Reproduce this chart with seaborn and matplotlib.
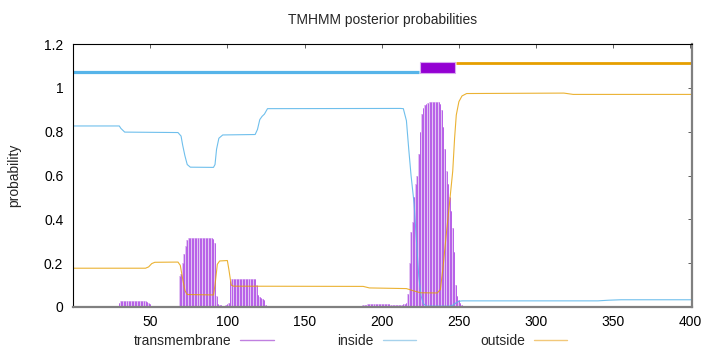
import numpy as np
import pandas as pd
import matplotlib
matplotlib.use("Agg")
import matplotlib.pyplot as plt
from matplotlib.lines import Line2D
import seaborn as sns

# transmembrane posterior, one value per residue, in segments
tm_starts = [29, 68, 187, 328]
tm_values = [
    [0.003, 0.020, 0.027, 0.028, 0.029, 0.029, 0.029, 0.029, 0.029, 0.029, 0.029, 0.029,
     0.029, 0.029, 0.029, 0.029, 0.029, 0.028, 0.028, 0.022, 0.018, 0.012, 0.004],
    [0.005, 0.140, 0.150, 0.200, 0.240, 0.280, 0.305, 0.315, 0.315, 0.315, 0.315, 0.315,
     0.315, 0.315, 0.315, 0.315, 0.315, 0.315, 0.315, 0.315, 0.315, 0.315, 0.315, 0.310,
     0.290, 0.050, 0.015, 0.010, 0.008, 0.006, 0.006, 0.008, 0.012, 0.020, 0.120, 0.126,
     0.126, 0.126, 0.126, 0.126, 0.126, 0.126, 0.126, 0.126, 0.126, 0.126, 0.126, 0.126,
     0.126, 0.126, 0.126, 0.100, 0.055, 0.045, 0.040, 0.035, 0.030, 0.010],
    [0.003, 0.008, 0.010, 0.011, 0.012, 0.012, 0.013, 0.013, 0.013, 0.013, 0.013, 0.013,
     0.013, 0.013, 0.013, 0.012, 0.012, 0.012, 0.012, 0.011, 0.011, 0.011, 0.011, 0.010,
     0.010, 0.010, 0.010, 0.012, 0.015, 0.020, 0.060, 0.200, 0.340, 0.390, 0.500, 0.560,
     0.600, 0.700, 0.800, 0.880, 0.910, 0.920, 0.925, 0.930, 0.935, 0.935, 0.935, 0.935,
     0.935, 0.935, 0.935, 0.925, 0.900, 0.820, 0.720, 0.620, 0.560, 0.500, 0.440, 0.360,
     0.250, 0.100, 0.050, 0.030, 0.020, 0.010, 0.005],
    [0.002, 0.003, 0.004, 0.004, 0.004, 0.004, 0.004, 0.004, 0.004, 0.004, 0.004, 0.004,
     0.004, 0.004, 0.004, 0.004, 0.004, 0.004, 0.004, 0.004, 0.003, 0.002],
]

# inside / outside posterior curves (residue, probability)
inside_x = [0, 30, 31, 33.5, 68, 70, 71, 72.5, 74, 76, 91, 92, 93, 94.5, 97, 118, 119.5, 121,
            122.5, 124, 126, 212, 214, 216, 217.5, 219, 221, 222.5, 224, 225.5, 227, 229,
            244, 246, 248, 250, 252, 340, 347, 355, 401]
inside_y = [0.826, 0.826, 0.815, 0.798, 0.796, 0.780, 0.740, 0.690, 0.650, 0.638, 0.637,
            0.650, 0.720, 0.770, 0.785, 0.787, 0.810, 0.855, 0.870, 0.880, 0.905, 0.906,
            0.905, 0.850, 0.720, 0.600, 0.470, 0.300, 0.140, 0.050, 0.015, 0.004, 0.004,
            0.008, 0.018, 0.026, 0.028, 0.028, 0.031, 0.033, 0.033]

outside_x = [0, 47, 49, 51, 53, 68, 69.5, 71, 72.5, 74, 91, 92, 93.5, 95, 100, 101, 102.5,
             104, 188, 192, 216, 220, 225, 236, 238, 239.7, 241.8, 244, 246, 247.2, 248.3,
             250, 252, 255, 318, 324, 401]
outside_y = [0.177, 0.177, 0.183, 0.198, 0.204, 0.205, 0.190, 0.130, 0.075, 0.057, 0.055,
             0.100, 0.195, 0.210, 0.212, 0.170, 0.100, 0.095, 0.094, 0.087, 0.084, 0.075,
             0.065, 0.064, 0.080, 0.180, 0.330, 0.480, 0.620, 0.770, 0.876, 0.937, 0.963,
             0.974, 0.976, 0.970, 0.970]

# predicted topology along the top
topo_inside = (0, 224)
topo_tm = (225, 247.5)
topo_outside = (248, 401)

sns.set_style("white")
plt.rcParams["font.family"] = ["Liberation Sans", "DejaVu Sans"]
plt.rcParams["font.size"] = 10

fig = plt.figure(figsize=(7.2, 3.52), dpi=100)
ax = fig.add_axes([73 / 720, 1 - 307 / 352, 619 / 720, 263 / 352])

tm_x = np.concatenate([np.arange(s, s + len(v)) for s, v in zip(tm_starts, tm_values)])
tm_y = np.concatenate(tm_values)
ax.bar(tm_x, tm_y, width=1.0, color="#e2c4f3", lw=0)
ax.vlines(tm_x, 0, tm_y, color="#b050e6", lw=0.6)

df_in = pd.DataFrame({"residue": inside_x, "prob": inside_y})
df_out = pd.DataFrame({"residue": outside_x, "prob": outside_y})
sns.lineplot(data=df_in, x="residue", y="prob", ax=ax, color="#56b4e9", lw=0.8, alpha=0.85)
sns.lineplot(data=df_out, x="residue", y="prob", ax=ax, color="#e69f00", lw=0.8, alpha=0.8)

ax.hlines(1.071, *topo_inside, color="#56b4e9", lw=2.3)
ax.fill_between(topo_tm, 1.067, 1.116, color="#9400d3", edgecolor="#d9a8f0", lw=0.8)
ax.hlines(1.112, *topo_outside, color="#e69f00", lw=2.0)

ax.set_xlim(0, 401)
ax.set_ylim(0, 1.2)
ax.set_xticks([50, 100, 150, 200, 250, 300, 350, 400])
ax.set_yticks([0, 0.2, 0.4, 0.6, 0.8, 1.0, 1.2])
ax.set_yticklabels(["0", "0.2", "0.4", "0.6", "0.8", "1", "1.2"])
ax.tick_params(direction="in", top=True, right=True, length=3, width=0.6,
               color="#444444", labelsize=10, labelcolor="black")
ax.tick_params(axis="x", pad=6)
ax.tick_params(axis="y", pad=7)
ax.set_xlabel("")
ax.set_ylabel("probability", fontsize=10)
ax.yaxis.set_label_coords(-0.083, 0.5)
for side in ["left", "top"]:
    ax.spines[side].set_color("black")
    ax.spines[side].set_linewidth(0.8)
for side in ["bottom", "right"]:
    ax.spines[side].set_color("#808080")
    ax.spines[side].set_linewidth(1.6)

fig.text(382.5 / 720, 1 - 20 / 352, "TMHMM posterior probabilities",
         ha="center", va="center", fontsize=10)

handles = [Line2D([], [], color="#c080e0", lw=1.0),
           Line2D([], [], color="#a6d2ec", lw=1.0),
           Line2D([], [], color="#f2c87a", lw=1.0)]
fig.legend(handles, ["transmembrane", "inside", "outside"], loc="center",
           bbox_to_anchor=(350.5 / 720, 1 - 341 / 352), ncol=3, frameon=False,
           markerfirst=False, handlelength=2.4, handletextpad=0.65,
           columnspacing=4.6, fontsize=10, borderpad=0)

fig.savefig("out.png", dpi=100)
